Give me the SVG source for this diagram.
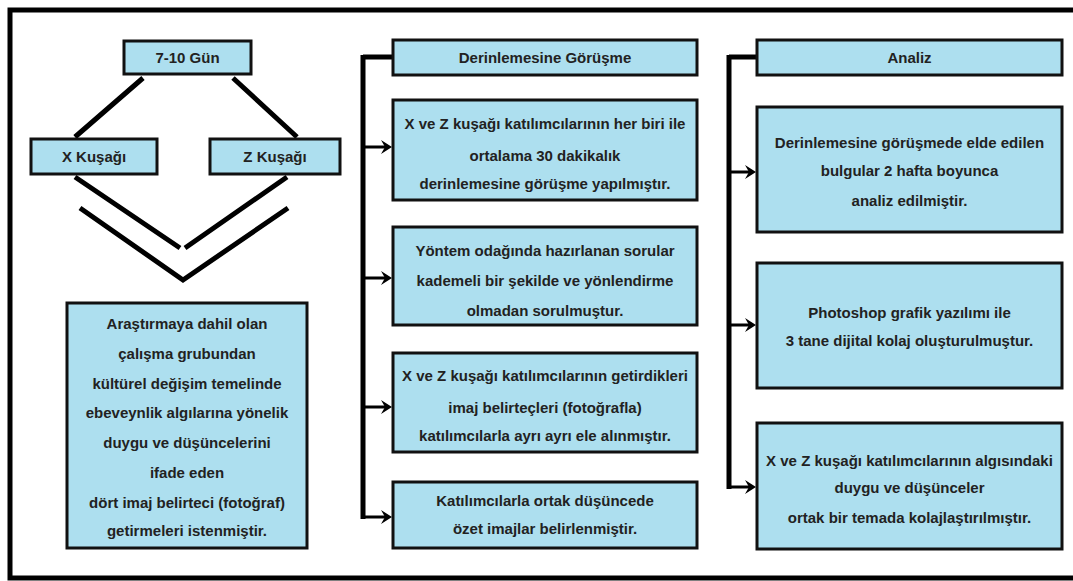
<svg xmlns="http://www.w3.org/2000/svg" width="1073" height="581" viewBox="0 0 1073 581">
<defs>
<style>
.box{fill:#ADDFEF;stroke:#111;stroke-width:3}
.t{font-family:"Liberation Sans",Arial,sans-serif;font-weight:bold;font-size:15px;fill:#222;text-anchor:middle}
.thick{stroke:#000;stroke-width:5;fill:none;stroke-linecap:butt}
.shaft{stroke:#000;stroke-width:3;fill:none}
.head{fill:#000}
</style>
</defs>
<rect x="0" y="0" width="1073" height="581" fill="#fff"/>
<rect x="10" y="10" width="1090" height="568" fill="none" stroke="#000" stroke-width="5"/>

<g id="connectors">
<path class="thick" d="M143 78 L75 137 M233 78 L297 137"/>
<path class="thick" d="M75 177 L180 248 M287 177 L185 248"/>
<path class="thick" d="M80 208 L183 280 L288 208"/>
<path class="thick" d="M363 57 L393 57 M363 55 L363 519"/>
<path class="shaft" d="M363 147 L386 147 M363 278 L386 278 M363 407 L386 407 M363 517 L386 517"/>
<path class="head" d="M381 140 L392 147 L381 154 L385 147 Z M381 271 L392 278 L381 285 L385 278 Z M381 400 L392 407 L381 414 L385 407 Z M381 510 L392 517 L381 524 L385 517 Z"/>
<path class="thick" d="M729 57 L757 57 M729 55 L729 489"/>
<path class="shaft" d="M729 172 L750 172 M729 325 L750 325 M729 487 L750 487"/>
<path class="head" d="M745 165 L756 172 L745 179 L749 172 Z M745 318 L756 325 L745 332 L749 325 Z M745 480 L756 487 L745 494 L749 487 Z"/>
</g>

<g id="n-gun"><rect class="box" x="124" y="41" width="127" height="33"/><text class="t" x="187.5" y="63">7-10 Gün</text></g>
<g id="n-x"><rect class="box" x="31" y="139" width="126" height="35"/><text class="t" x="94" y="162">X Kuşağı</text></g>
<g id="n-z"><rect class="box" x="210" y="139" width="130" height="35"/><text class="t" x="275" y="162">Z Kuşağı</text></g>
<g id="n-main"><rect class="box" x="67" y="303" width="240" height="245"/>
<text class="t" x="187" y="328.5">Araştırmaya dahil olan</text>
<text class="t" x="187" y="358.5">çalışma grubundan</text>
<text class="t" x="187" y="388.5">kültürel değişim temelinde</text>
<text class="t" x="187" y="417.5">ebeveynlik algılarına yönelik</text>
<text class="t" x="187" y="447.5">duygu ve düşüncelerini</text>
<text class="t" x="187" y="477.5">ifade eden</text>
<text class="t" x="187" y="507.5">dört imaj belirteci (fotoğraf)</text>
<text class="t" x="187" y="535.5">getirmeleri istenmiştir.</text>
</g>

<g id="n-derin"><rect class="box" x="393" y="40" width="304" height="35"/><text class="t" x="545" y="63">Derinlemesine Görüşme</text></g>
<g id="n-d1"><rect class="box" x="393" y="100" width="304" height="100"/>
<text class="t" x="545" y="128.5">X ve Z kuşağı katılımcılarının her biri ile</text>
<text class="t" x="545" y="160.5">ortalama 30 dakikalık</text>
<text class="t" x="545" y="188.5">derinlemesine görüşme yapılmıştır.</text>
</g>
<g id="n-d2"><rect class="box" x="393" y="227" width="304" height="98"/>
<text class="t" x="545" y="255.5">Yöntem odağında hazırlanan sorular</text>
<text class="t" x="545" y="285.5">kademeli bir şekilde ve yönlendirme</text>
<text class="t" x="545" y="315.5">olmadan sorulmuştur.</text>
</g>
<g id="n-d3"><rect class="box" x="393" y="353" width="304" height="99"/>
<text class="t" x="545" y="380.5">X ve Z kuşağı katılımcılarının getirdikleri</text>
<text class="t" x="545" y="412.5">imaj belirteçleri (fotoğrafla)</text>
<text class="t" x="545" y="440.5">katılımcılarla ayrı ayrı ele alınmıştır.</text>
</g>
<g id="n-d4"><rect class="box" x="393" y="482" width="304" height="66"/>
<text class="t" x="545" y="505.5">Katılımcılarla ortak düşüncede</text>
<text class="t" x="545" y="533.5">özet imajlar belirlenmiştir.</text>
</g>

<g id="n-analiz"><rect class="box" x="757" y="40" width="305" height="35"/><text class="t" x="909.5" y="63">Analiz</text></g>
<g id="n-a1"><rect class="box" x="757" y="107" width="305" height="125"/>
<text class="t" x="909.5" y="147.5">Derinlemesine görüşmede elde edilen</text>
<text class="t" x="909.5" y="175.5">bulgular 2 hafta boyunca</text>
<text class="t" x="909.5" y="205.5">analiz edilmiştir.</text>
</g>
<g id="n-a2"><rect class="box" x="757" y="263" width="305" height="125"/>
<text class="t" x="909.5" y="317.5">Photoshop grafik yazılımı ile</text>
<text class="t" x="909.5" y="345.5">3 tane dijital kolaj oluşturulmuştur.</text>
</g>
<g id="n-a3"><rect class="box" x="757" y="423" width="305" height="126"/>
<text class="t" x="909.5" y="465.5">X ve Z kuşağı katılımcılarının algısındaki</text>
<text class="t" x="909.5" y="492.5">duygu ve düşünceler</text>
<text class="t" x="909.5" y="522.5">ortak bir temada kolajlaştırılmıştır.</text>
</g>
</svg>
